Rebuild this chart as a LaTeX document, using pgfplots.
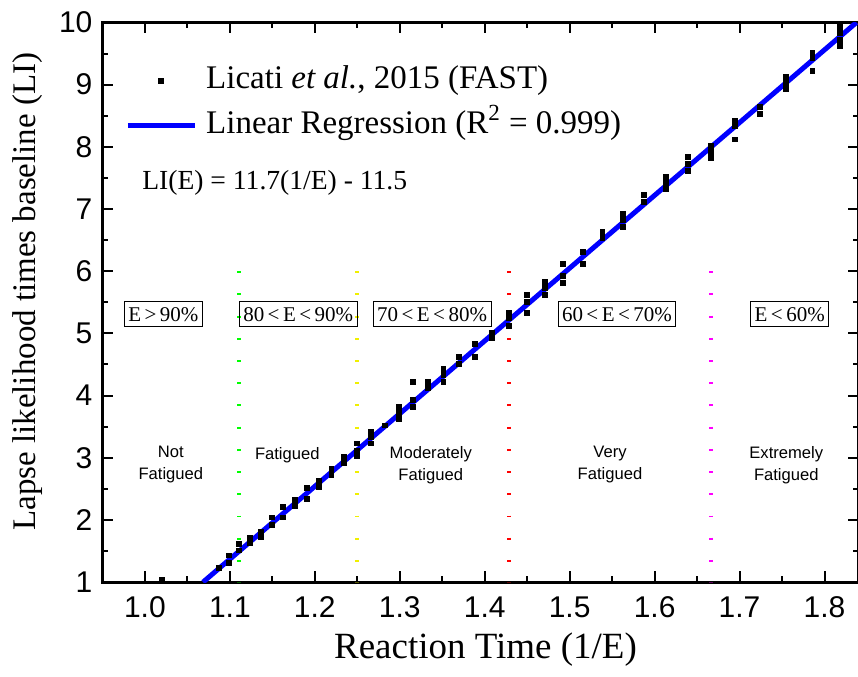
\documentclass[border=0pt]{standalone}
\usepackage{fontspec}
\setmainfont{Liberation Serif}
\setsansfont{Liberation Sans}
\usepackage{pgfplots}
\pgfplotsset{compat=1.18}
\definecolor{oblue}{RGB}{0,0,255}
\definecolor{ogreen}{RGB}{0,255,0}
\definecolor{oyellow}{RGB}{240,240,0}
\definecolor{ored}{RGB}{255,0,0}
\definecolor{omag}{RGB}{255,0,255}
\pgfplotsset{
  scatleg/.style={legend image code/.code={\draw[mark repeat=2,mark phase=2,##1] plot coordinates {(0pt,0pt)(16.75pt,0pt)(33.5pt,0pt)};}},
  lineleg/.style={legend image code/.code={\draw[##1] (0pt,0pt) -- (33.5pt,0pt);}}
}
\pgfplotstableread{
x y
1.0204 1.03
1.0870 1.23
1.0989 1.43
1.0989 1.31
1.1111 1.62
1.1111 1.51
1.1236 1.72
1.1236 1.63
1.1364 1.81
1.1364 1.73
1.1494 2.04
1.1494 1.92
1.1628 2.21
1.1628 2.04
1.1765 2.32
1.1765 2.23
1.1905 2.51
1.1905 2.34
1.2048 2.63
1.2048 2.53
1.2195 2.82
1.2195 2.72
1.2346 3.02
1.2346 2.92
1.2500 3.23
1.2500 3.12
1.2500 3.03
1.2658 3.42
1.2658 3.33
1.2658 3.23
1.2821 3.52
1.2987 3.82
1.2987 3.72
1.2987 3.63
1.3158 4.22
1.3158 3.93
1.3158 3.82
1.3333 4.22
1.3333 4.12
1.3514 4.43
1.3514 4.33
1.3514 4.22
1.3699 4.62
1.3699 4.51
1.3889 4.83
1.3889 4.62
1.4085 5.01
1.4085 4.93
1.4286 5.33
1.4286 5.25
1.4286 5.12
1.4493 5.62
1.4493 5.51
1.4493 5.33
1.4706 5.83
1.4706 5.73
1.4706 5.62
1.4925 6.12
1.4925 5.92
1.4925 5.81
1.5152 6.31
1.5152 6.12
1.5385 6.63
1.5385 6.53
1.5625 6.92
1.5625 6.82
1.5625 6.71
1.5873 7.23
1.5873 7.12
1.6129 7.52
1.6129 7.42
1.6129 7.32
1.6393 7.84
1.6393 7.72
1.6393 7.61
1.6667 8.02
1.6667 7.92
1.6667 7.82
1.6949 8.42
1.6949 8.34
1.6949 8.12
1.7241 8.64
1.7241 8.53
1.7544 9.12
1.7544 9.03
1.7544 8.93
1.7857 9.52
1.7857 9.43
1.7857 9.22
1.8182 9.93
1.8182 9.83
1.8182 9.72
1.8182 9.62
}\datatable
\begin{document}
\begin{tikzpicture}
\begin{axis}[
  name=ax,
  scale only axis, width=378.25pt, height=280pt,
  xmin=0.95, xmax=1.84, ymin=1, ymax=10,
  xtick={1.0,1.1,1.2,1.3,1.4,1.5,1.6,1.7,1.8},
  xticklabels={1.0,1.1,1.2,1.3,1.4,1.5,1.6,1.7,1.8},
  minor xtick={1.05,1.15,1.25,1.35,1.45,1.55,1.65,1.75},
  ytick={1,2,3,4,5,6,7,8,9,10},
  yticklabels={1,2,3,4,5,6,7,8,9,10},
  minor ytick={1.5,2.5,3.5,4.5,5.5,6.5,7.5,8.5,9.5},
  tick align=inside,
  major tick length=5.5pt, minor tick length=3pt,
  every tick/.style={black, line width=1pt},
  axis line style={line width=1.5pt},
  /pgf/number format/assume math mode=true,
  xticklabel style={font=\sffamily\fontsize{15}{15}\selectfont, yshift=-3.75pt},
  yticklabel style={font=\sffamily\fontsize{15}{15}\selectfont, xshift=-1.5pt},
  xlabel={Reaction Time (1/E)},
  xlabel style={font=\fontsize{18.5}{18.5}\selectfont, at={(axis description cs:0.5066,0)}, anchor=center, yshift=-33.75pt},
  ylabel={Lapse likelihood times baseline (LI)},
  ylabel style={font=\fontsize{16.5}{16.5}\selectfont, at={(axis description cs:0,0.519)}, anchor=center, yshift=37.5pt},
  legend style={at={(axis description cs:0.0297,0.856)}, anchor=west, draw=none, fill=none,
    font=\fontsize{16.5}{16.5}\selectfont, inner sep=0pt, row sep=8pt, column sep=4.5pt,
    nodes={inner sep=0pt, text height=11pt, text depth=3.5pt}},
  legend cell align=left,
]
\addplot[only marks, mark=square*, mark size=1.2pt, black, scatleg]
  table[x=x,y=y]{\datatable};
\addlegendentry{Licati \textit{et al.}, 2015 (FAST)}
\addplot[oblue, line width=2.5pt, lineleg]
  coordinates {(1.0684,1) (1.8376,10)};
\addlegendentry{Linear Regression (R\textsuperscript{2} = 0.999)}
\addplot[ogreen, line width=2pt, dash pattern=on 1pt off 10.11pt, forget plot] coordinates {(1.1111,6) (1.1111,1)};
\addplot[oyellow, line width=2pt, dash pattern=on 1pt off 10.11pt, forget plot] coordinates {(1.25,6) (1.25,1)};
\addplot[ored, line width=2pt, dash pattern=on 1pt off 10.11pt, forget plot] coordinates {(1.4286,6) (1.4286,1)};
\addplot[omag, line width=2pt, dash pattern=on 1pt off 10.11pt, forget plot] coordinates {(1.6667,6) (1.6667,1)};
\node[anchor=west, inner sep=0pt, font=\fontsize{13.8}{13.8}\selectfont] at (axis cs:0.9965,7.42) {LI(E) = 11.7(1/E) - 11.5};
\tikzset{bx/.style={draw=black, line width=0.5pt, inner xsep=2pt, inner ysep=0pt, minimum height=12.5pt, font=\fontsize{10.5}{10.5}\selectfont}}
\node[bx] at (axis cs:1.0217,5.307) {E\,>\,90\%};
\node[bx] at (axis cs:1.1805,5.307) {80\,<\,E\,<\,90\%};
\node[bx] at (axis cs:1.338,5.307) {70\,<\,E\,<\,80\%};
\node[bx] at (axis cs:1.5557,5.307) {60\,<\,E\,<\,70\%};
\node[bx] at (axis cs:1.759,5.307) {E\,<\,60\%};
\tikzset{rl/.style={align=center, inner sep=0pt, font=\sffamily\fontsize{8.3}{11}\selectfont}}
\node[rl] at (axis cs:1.0305,2.888) {Not\\Fatigued};
\node[rl] at (axis cs:1.1676,3.049) {Fatigued};
\node[rl] at (axis cs:1.3365,2.888) {Moderately\\Fatigued};
\node[rl] at (axis cs:1.5475,2.888) {Very\\Fatigued};
\node[rl] at (axis cs:1.755,2.888) {Extremely\\Fatigued};
\end{axis}
\pgfresetboundingbox
\path[use as bounding box] ([shift={(-51.25pt,-47.25pt)}]ax.south west) rectangle ([shift={(-0.25pt,11.25pt)}]ax.north east);
\end{tikzpicture}
\end{document}
